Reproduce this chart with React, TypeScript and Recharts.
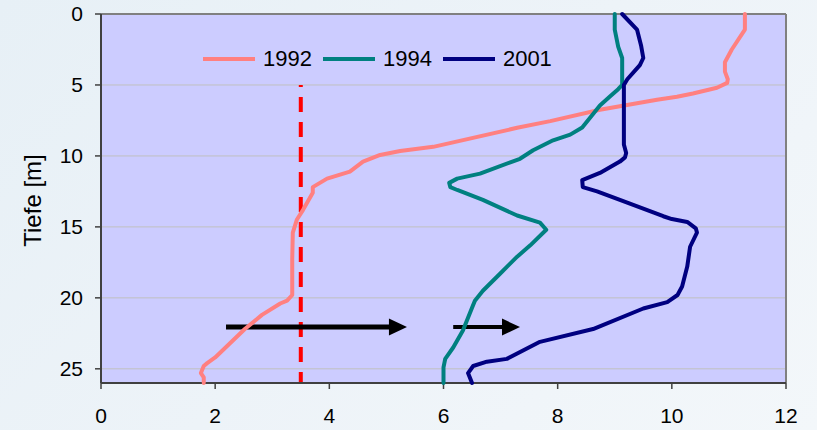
import { ScatterChart, Scatter, XAxis, YAxis, CartesianGrid, ReferenceLine } from "recharts"

// [Wert, Tiefe in m]
const profile1992: [number, number][] = [
  [11.28, 0], [11.28, 1.1], [11.05, 2.5], [10.93, 3.4], [10.93, 4.06], [10.98, 4.6], [10.97, 4.85],
  [10.79, 5.2], [10.37, 5.6], [10.09, 5.83], [9.74, 6.04], [8.74, 6.75], [7.87, 7.55], [7.29, 8.02],
  [5.82, 9.36], [5.24, 9.65], [4.89, 9.93], [4.59, 10.4], [4.36, 11.1], [3.96, 11.6], [3.71, 12.2],
  [3.71, 12.6], [3.54, 13.8], [3.43, 14.5], [3.36, 15.4], [3.35, 17.3], [3.35, 19.8], [3.26, 20.2],
  [3.14, 20.4], [2.82, 21.2], [2.52, 22.2], [2.26, 23.2], [2.0, 24.2], [1.86, 24.6], [1.8, 24.8],
  [1.75, 25.3], [1.8, 25.6], [1.8, 26],
]

const profile1994: [number, number][] = [
  [9.0, 0], [9.0, 1.1], [9.06, 2.3], [9.13, 3.1], [9.13, 5.0], [9.06, 5.3], [8.92, 5.8], [8.74, 6.45],
  [8.43, 8.0], [8.22, 8.5], [7.92, 8.9], [7.57, 9.6], [7.34, 10.2], [7.17, 10.45], [6.64, 11.25],
  [6.24, 11.6], [6.1, 11.9], [6.12, 12.2], [6.24, 12.4], [6.69, 13.1], [7.29, 14.2], [7.69, 14.7],
  [7.8, 15.2], [7.52, 16.3], [7.29, 17.1], [6.99, 18.3], [6.69, 19.5], [6.55, 20.2], [6.5, 20.7],
  [6.34, 22.3], [6.17, 23.5], [6.03, 24.3], [6.0, 24.9], [6.0, 26],
]

const profile2001: [number, number][] = [
  [9.13, 0], [9.39, 1.1], [9.46, 2.2], [9.5, 3.1], [9.44, 3.6], [9.22, 4.6], [9.16, 5.0], [9.16, 9.2],
  [9.2, 9.8], [9.18, 10.1], [9.09, 10.4], [8.74, 11.2], [8.43, 11.7], [8.44, 12.2], [8.69, 12.5],
  [9.09, 13.1], [9.85, 14.25], [10.0, 14.45], [10.27, 14.65], [10.42, 15.1], [10.44, 15.4],
  [10.32, 16.4], [10.27, 17.8], [10.18, 19.2], [10.1, 19.8], [9.92, 20.3], [9.5, 20.75], [8.62, 22.2],
  [7.69, 23.1], [7.11, 24.3], [6.76, 24.5], [6.52, 24.8], [6.43, 25.3], [6.5, 26],
]

const years = ["1992", "1994", "2001"]
const colors = ["#ff8080", "#008080", "#000080"]
const profiles = [profile1992, profile1994, profile2001]

const xTicks = [0, 2, 4, 6, 8, 10, 12]
const yTicks = [0, 5, 10, 15, 20, 25]

// Grenzwert-Linie
const limitX = 3.5
const limitFrom = 5
const limitTo = 26

// Pfeile: Start, Spitze, Tiefe, Strichstärke
const arrows = [
  { from: 2.19, to: 5.36, depth: 22.06, width: 5 },
  { from: 6.17, to: 7.34, depth: 22.06, width: 4 },
]

const series = years.map((year, i) => ({
  year,
  color: colors[i],
  points: profiles[i].map(([x, d]) => ({ x, d })),
}))

const font = '"Liberation Sans", Arial, sans-serif'

const Arrow = ({ x1, y1, x2, y2, w }: any) => {
  const head = 18
  const half = 8.5
  return (
    <g>
      <line x1={x1} y1={y1} x2={x2 - head + 1} y2={y2} stroke="#000" strokeWidth={w} />
      <polygon points={`${x2},${y2} ${x2 - head},${y2 - half} ${x2 - head},${y2 + half}`} fill="#000" />
    </g>
  )
}

const LegendBox = () => (
  <div
    style={{
      position: "absolute",
      left: 203,
      top: 46,
      display: "flex",
      alignItems: "center",
      fontFamily: font,
      fontSize: 22,
      color: "#000",
    }}
  >
    {series.map((s) => (
      <div key={s.year} style={{ display: "flex", alignItems: "center", marginRight: 11 }}>
        <div style={{ width: 52, height: 4, background: s.color, marginRight: 8 }} />
        <span>{s.year}</span>
      </div>
    ))}
  </div>
)

export default function App() {
  return (
    <div
      style={{
        position: "absolute",
        left: 0,
        top: 0,
        width: 817,
        height: 430,
        background: "linear-gradient(135deg, #e7f0f6 0%, #edf3f8 50%, #f3f7fa 100%)",
      }}
    >
      <ScatterChart width={817} height={430} margin={{ top: 14, right: 31, bottom: 0, left: 0 }} style={{ fontFamily: font }}>
        <CartesianGrid vertical={false} stroke="#c0c0c0" fill="#ccccff" />
        <XAxis
          type="number"
          dataKey="x"
          domain={[0, 12]}
          ticks={xTicks}
          height={47}
          tickSize={6}
          tickMargin={19}
          axisLine={{ stroke: "#404040", strokeWidth: 2 }}
          tickLine={{ stroke: "#404040", strokeWidth: 1.5 }}
          tick={{ fontSize: 21, fill: "#000" }}
        />
        <YAxis
          type="number"
          dataKey="d"
          domain={[0, 26]}
          ticks={yTicks}
          reversed
          width={101}
          tickSize={6}
          tickMargin={12}
          axisLine={{ stroke: "#404040", strokeWidth: 2 }}
          tickLine={{ stroke: "#404040", strokeWidth: 1.5 }}
          tick={{ fontSize: 21, fill: "#000" }}
          label={{
            content: ({ viewBox }: any) => {
              const cx = 32
              const cy = viewBox.y + viewBox.height / 2 + 2
              return (
                <text x={cx} y={cy} transform={`rotate(-90 ${cx} ${cy})`} textAnchor="middle" dominantBaseline="central" fontSize={24} fill="#000">
                  Tiefe [m]
                </text>
              )
            },
          }}
        />
        <ReferenceLine y={0} stroke="#808080" strokeWidth={2} />
        <ReferenceLine x={12} stroke="#808080" strokeWidth={2} />
        {series.map((s) => (
          <Scatter
            key={s.year}
            name={s.year}
            data={s.points}
            line={{ stroke: s.color, strokeWidth: 4, strokeLinejoin: "round", strokeLinecap: "round" }}
            shape={() => <g />}
            isAnimationActive={false}
          />
        ))}
        <ReferenceLine
          segment={[{ x: limitX, y: limitFrom }, { x: limitX, y: limitTo }]}
          stroke="#ff0000"
          strokeWidth={4}
          strokeDasharray="15 10"
          strokeDashoffset={13}
        />
        {arrows.map((a, i) => (
          <ReferenceLine
            key={i}
            segment={[{ x: a.from, y: a.depth }, { x: a.to, y: a.depth }]}
            shape={(p: any) => <Arrow {...p} w={a.width} />}
          />
        ))}
      </ScatterChart>
      <LegendBox />
    </div>
  )
}
